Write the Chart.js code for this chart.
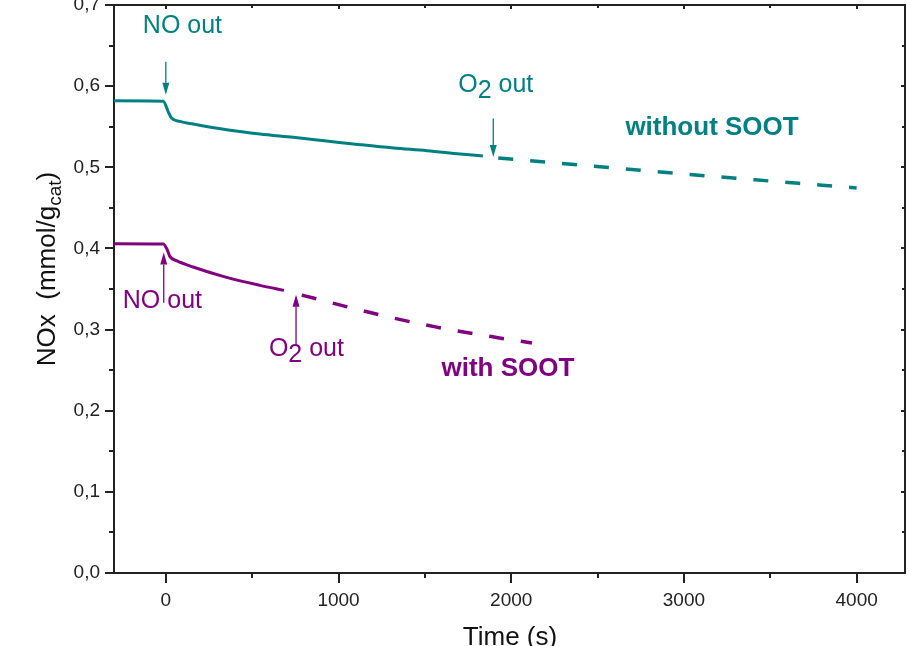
<!DOCTYPE html>
<html>
<head>
<meta charset="utf-8">
<script src="https://cdn.jsdelivr.net/npm/chart.js@4/dist/chart.umd.min.js"></script>
<style>
  html, body { margin: 0; padding: 0; background: #fff; }
  canvas { display: block; }
</style>
</head>
<body>
<canvas id="c" width="909" height="646"></canvas>
<script>
// ---- data ----
const timeTealSolid = [-300, -15, 13, 33, 81, 158, 352, 545, 738, 931, 1125, 1318, 1512, 1704, 1836];
const noxTealSolid  = [0.5820, 0.5815, 0.5690, 0.5607, 0.5566, 0.5533, 0.5463, 0.5410, 0.5369, 0.5324, 0.5279, 0.5238, 0.5205, 0.5164, 0.5139];
const timeTealDashed = [1925, 2900, 4000];
const noxTealDashed  = [0.5115, 0.4935, 0.4745];

const timePurpleSolid = [-300, -15, 8, 23, 62, 158, 352, 545, 684];
const noxPurpleSolid  = [0.4058, 0.4055, 0.3984, 0.3902, 0.3849, 0.3771, 0.3643, 0.3545, 0.3483];
const timePurpleDashed = [787, 1241, 1568, 1923, 2120];
const noxPurpleDashed  = [0.3425, 0.3180, 0.3030, 0.2900, 0.2835];

const xTickValues = [0, 1000, 2000, 3000, 4000];
const xMinorTicks = [500, 1500, 2500, 3500];
const yTickValues = [0, 0.1, 0.2, 0.3, 0.4, 0.5, 0.6, 0.7];
const yMinorTicks = [0.05, 0.15, 0.25, 0.35, 0.45, 0.55, 0.65];

const xTitle = 'Time (s)';
const yTitleMain = 'NOx  (mmol/g';
const yTitleSub = 'cat';
const yTitleEnd = ')';

const TEAL = '#008080';
const PURPLE = '#800080';
const FONT = "'Liberation Sans', Arial, sans-serif";

// annotations: text parts [main, subscript, rest], anchored in data coordinates
const labelTexts = [
  { parts: ['NO out', '', ''], x: -133, y: 0.6655, color: TEAL, bold: false },
  { parts: ['O', '2', ' out'], x: 1693, y: 0.5928, color: TEAL, bold: false },
  { parts: ['without SOOT', '', ''], x: 2661, y: 0.5399, color: TEAL, bold: true },
  { parts: ['NO out', '', ''], x: -249, y: 0.327, color: PURPLE, bold: false },
  { parts: ['O', '2', ' out'], x: 597, y: 0.2675, color: PURPLE, bold: false },
  { parts: ['with SOOT', '', ''], x: 1596, y: 0.2423, color: PURPLE, bold: true }
];
const arrowMarks = [
  { x: 0, from: 0.630, to: 0.5895, color: TEAL },
  { x: 1896, from: 0.560, to: 0.5127, color: TEAL },
  { x: -12, from: 0.333, to: 0.395, color: PURPLE },
  { x: 754, from: 0.2814, to: 0.343, color: PURPLE }
];

function pts(xs, ys) { return xs.map((x, i) => ({ x: x, y: ys[i] })); }

const framePlugin = {
  id: 'frame',
  beforeDraw(chart) {
    const c = chart.ctx;
    c.save();
    c.fillStyle = '#fff';
    c.fillRect(0, 0, chart.width, chart.height);
    c.restore();
  },
  afterDraw(chart) {
    const c = chart.ctx;
    const a = chart.chartArea;
    const xs = chart.scales.x, ys = chart.scales.y;
    c.save();
    c.strokeStyle = '#222';
    c.lineWidth = 2;
    c.beginPath();
    c.moveTo(a.left, a.top); c.lineTo(a.right, a.top); c.lineTo(a.right, a.bottom);
    c.stroke();
    // ticks
    c.lineWidth = 2;
    c.beginPath();
    xTickValues.forEach(v => {
      const p = Math.round(xs.getPixelForValue(v));
      c.moveTo(p, a.bottom); c.lineTo(p, a.bottom + 10);
      c.moveTo(p, a.top); c.lineTo(p, a.top + 4);
    });
    xMinorTicks.forEach(v => {
      const p = Math.round(xs.getPixelForValue(v));
      c.moveTo(p, a.bottom); c.lineTo(p, a.bottom + 5);
      c.moveTo(p, a.top); c.lineTo(p, a.top + 3);
    });
    yTickValues.forEach(v => {
      const p = Math.round(ys.getPixelForValue(v));
      c.moveTo(a.left, p); c.lineTo(a.left - 9, p);
      c.moveTo(a.right, p); c.lineTo(a.right - 4, p);
    });
    yMinorTicks.forEach(v => {
      const p = Math.round(ys.getPixelForValue(v));
      c.moveTo(a.left, p); c.lineTo(a.left - 5, p);
      c.moveTo(a.right, p); c.lineTo(a.right - 3, p);
    });
    c.stroke();

    // arrows
    arrowMarks.forEach(m => {
      const px = xs.getPixelForValue(m.x);
      const p0 = ys.getPixelForValue(m.from);
      const p1 = ys.getPixelForValue(m.to);
      const dir = p1 > p0 ? 1 : -1;
      const head = 12;
      c.strokeStyle = m.color;
      c.fillStyle = m.color;
      c.lineWidth = 1.3;
      c.beginPath();
      c.moveTo(px, p0); c.lineTo(px, p1 - dir * head);
      c.stroke();
      c.beginPath();
      c.moveTo(px, p1);
      c.lineTo(px - 3.5, p1 - dir * head);
      c.lineTo(px + 3.5, p1 - dir * head);
      c.closePath();
      c.fill();
    });

    // labels
    c.textBaseline = 'alphabetic';
    c.textAlign = 'left';
    labelTexts.forEach(l => {
      const size = l.bold ? 26 : 25;
      const font = (l.bold ? 'bold ' : '') + size + 'px ' + FONT;
      let x = xs.getPixelForValue(l.x);
      const y = ys.getPixelForValue(l.y);
      c.fillStyle = l.color;
      c.font = font;
      c.fillText(l.parts[0], x, y);
      x += c.measureText(l.parts[0]).width;
      if (l.parts[1]) {
        c.fillText(l.parts[1], x, y + 6);
        x += c.measureText(l.parts[1]).width;
      }
      if (l.parts[2]) c.fillText(l.parts[2], x, y);
    });

    // axis titles
    c.fillStyle = '#111';
    c.font = '26px ' + FONT;
    c.textAlign = 'center';
    c.fillText(xTitle, 510, 645);

    c.save();
    c.translate(55, 269);
    c.rotate(-Math.PI / 2);
    const f1 = '26px ' + FONT, f2 = '19px ' + FONT;
    c.font = f1; const w1 = c.measureText(yTitleMain).width; const w3 = c.measureText(yTitleEnd).width;
    c.font = f2; const w2 = c.measureText(yTitleSub).width;
    let sx = -(w1 + w2 + w3) / 2;
    c.textAlign = 'left';
    c.font = f1; c.fillText(yTitleMain, sx, 0); sx += w1;
    c.font = f2; c.fillText(yTitleSub, sx, 6); sx += w2;
    c.font = f1; c.fillText(yTitleEnd, sx, 0);
    c.restore();

    c.restore();
  }
};

const lineBase = { showLine: true, pointRadius: 0, cubicInterpolationMode: 'monotone', borderCapStyle: 'butt' };

new Chart(document.getElementById('c'), {
  type: 'scatter',
  data: {
    datasets: [
      Object.assign({ data: pts(timeTealSolid, noxTealSolid), borderColor: TEAL, borderWidth: 3 }, lineBase),
      Object.assign({ data: pts(timeTealDashed, noxTealDashed), borderColor: TEAL, borderWidth: 3.5, borderDash: [15, 17] }, lineBase),
      Object.assign({ data: pts(timePurpleSolid, noxPurpleSolid), borderColor: PURPLE, borderWidth: 3 }, lineBase),
      Object.assign({ data: pts(timePurpleDashed, noxPurpleDashed), borderColor: PURPLE, borderWidth: 3.5, borderDash: [15, 17] }, lineBase)
    ]
  },
  options: {
    responsive: false,
    animation: false,
    events: [],
    layout: { padding: { top: 5, right: 4, left: 0, bottom: 0 } },
    plugins: { legend: { display: false }, tooltip: { enabled: false }, title: { display: false } },
    scales: {
      x: {
        type: 'linear', min: -300, max: 4280,
        grid: { display: false, drawTicks: false },
        border: { display: true, color: '#222', width: 2 },
        ticks: { color: '#222', font: { family: FONT, size: 19 }, padding: 16, maxRotation: 0,
                 callback: v => String(v) },
        afterBuildTicks: s => { s.ticks = xTickValues.map(v => ({ value: v })); },
        afterFit: s => { s.height = 73; s.paddingLeft = 0; s.paddingRight = 0; }
      },
      y: {
        type: 'linear', min: 0, max: 0.7,
        grid: { display: false, drawTicks: false },
        border: { display: true, color: '#222', width: 2 },
        ticks: { color: '#222', font: { family: FONT, size: 19 }, padding: 14,
                 callback: v => Number(v).toFixed(1).replace('.', ',') },
        afterBuildTicks: s => { s.ticks = yTickValues.map(v => ({ value: v })); },
        afterFit: s => { s.width = 114; s.paddingTop = 0; s.paddingBottom = 0; }
      }
    }
  },
  plugins: [framePlugin]
});
</script>
</body>
</html>
